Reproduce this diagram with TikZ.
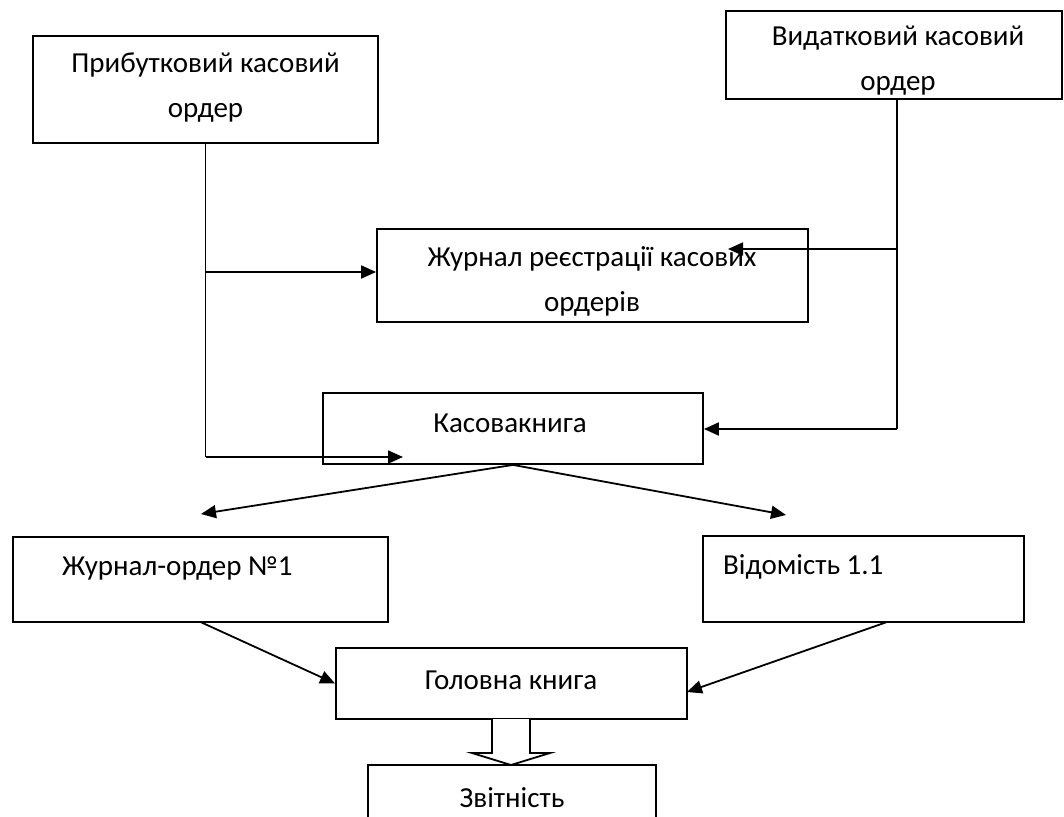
\documentclass[tikz,border=0pt]{standalone}
\usepackage{fontspec}
\setmainfont{Carlito}
\usetikzlibrary{arrows.meta}
\begin{document}
\begin{tikzpicture}[x=1pt,y=-1pt,
  box/.style={draw, line width=1.8pt, inner sep=0pt, rectangle},
  lbl/.style={font=\fontsize{29}{45}\selectfont, align=center, inner sep=0pt},
  conn/.style={line width=1.8pt},
  arr/.style={line width=1.8pt, -{Triangle[length=15pt,width=13pt]}},
  hollow/.style={draw, line width=1.8pt, fill=white, line join=miter}]
\clip (0,0) rectangle (1064,816);
\fill[white] (0,0) rectangle (1064,816);
% boxes
\node[box, minimum width=345pt, minimum height=107pt] (b1) at (205.5,89.5) {};
\node[box, minimum width=336pt, minimum height=88pt]  (b2) at (894,55) {};
\node[box, minimum width=431pt, minimum height=93pt]  (b3) at (592.5,275.5) {};
\node[box, minimum width=380pt, minimum height=71pt]  (b4) at (513,428.5) {};
\node[box, minimum width=375pt, minimum height=85pt]  (b5) at (200.5,579.5) {};
\node[box, minimum width=321pt, minimum height=86pt]  (b6) at (863.5,579) {};
\node[box, minimum width=351pt, minimum height=71pt]  (b7) at (511.5,683.5) {};
\node[box, minimum width=288pt, minimum height=90pt]  (b8) at (512,810) {};
% texts
\node[lbl] (t1) at (205.5,88) {Прибутковий касовий\\ордер};
\node[lbl] (t2) at (898,61) {Видатковий касовий\\ордер};
\node[lbl] (t3) at (592,281) {Журнал реєстрації касових\\ордерів};
\node[lbl] (t4) at (510,423) {Касовакнига};
\node[lbl, anchor=west] (t5) at (62,568) {Журнал-ордер №1};
\node[lbl, anchor=west] (t6) at (723,567) {Відомість 1.1};
\node[lbl] (t7) at (511,680) {Головна книга};
\node[lbl] (t8) at (512,798) {Звітність};
% left branch
\coordinate (l1) at (205.5,457);
\coordinate (l2) at (205.5,272);
\coordinate (k1) at (403,457);
\draw[conn] (b1.south) -- (l1);
\draw[arr] (l2) -- (l2 -| b3.west);
\draw[arr] (l1) -- (k1);
% right branch
\coordinate (r0) at (897,99);
\coordinate (r1) at (897,249);
\coordinate (r2) at (897,429);
\coordinate (k2) at (728,249);
\draw[conn] (r0) -- (r2);
\draw[arr] (r1) -- (k2);
\draw[arr] (r2) -- (r2 -| b4.east);
% fan out
\coordinate (k3) at (201,514);
\coordinate (k4) at (786,515);
\draw[arr] (b4.south) -- (k3);
\draw[arr] (b4.south) -- (k4);
% into main book
\coordinate (s5) at (200.5,622);
\coordinate (s6) at (887,622);
\coordinate (k5) at (687,692);
\draw[arr] (s5) -- (b7.west);
\draw[arr] (s6) -- (k5);
% hollow arrow
\draw[hollow] (492,719) -- (492,753) -- (472,753) -- (511,765) -- (550,753) -- (530,753) -- (530,719);
\end{tikzpicture}
\end{document}
